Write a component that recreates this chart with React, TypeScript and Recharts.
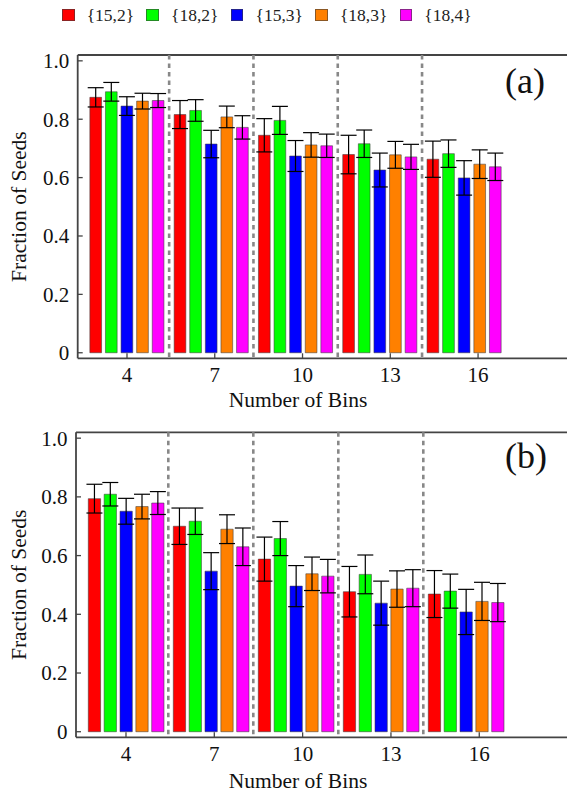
import React from "react";
import { BarChart, Bar, XAxis, YAxis, ReferenceLine, ErrorBar } from "recharts";

const FONT = '"Liberation Serif", "Times New Roman", Times, serif';

// ---------- data ----------
const bins = [4, 7, 10, 13, 16];
const seriesLabels = ["{15,2}", "{18,2}", "{15,3}", "{18,3}", "{18,4}"];
const xTicks = [4, 7, 10, 13, 16];
const yTicks = [0, 0.2, 0.4, 0.6, 0.8, 1.0];

// panel (a)
const a15_2 = [0.875, 0.816, 0.745, 0.679, 0.663];
const a18_2 = [0.894, 0.83, 0.796, 0.716, 0.682];
const a15_3 = [0.845, 0.715, 0.674, 0.626, 0.599];
const a18_3 = [0.862, 0.808, 0.712, 0.678, 0.646];
const a18_4 = [0.864, 0.772, 0.709, 0.671, 0.637];
const aErr15_2 = [0.033, 0.048, 0.057, 0.066, 0.062];
const aErr18_2 = [0.032, 0.037, 0.048, 0.047, 0.047];
const aErr15_3 = [0.032, 0.047, 0.053, 0.058, 0.059];
const aErr18_3 = [0.027, 0.037, 0.042, 0.046, 0.049];
const aErr18_4 = [0.024, 0.04, 0.04, 0.043, 0.047];

// panel (b)
const b15_2 = [0.794, 0.7, 0.588, 0.477, 0.469];
const b18_2 = [0.809, 0.717, 0.658, 0.536, 0.479];
const b15_3 = [0.751, 0.547, 0.496, 0.438, 0.408];
const b18_3 = [0.767, 0.69, 0.538, 0.486, 0.444];
const b18_4 = [0.779, 0.63, 0.53, 0.489, 0.44];
const bErr15_2 = [0.049, 0.062, 0.075, 0.086, 0.08];
const bErr18_2 = [0.04, 0.045, 0.058, 0.066, 0.058];
const bErr15_3 = [0.044, 0.063, 0.07, 0.075, 0.077];
const bErr18_3 = [0.042, 0.049, 0.057, 0.062, 0.065];
const bErr18_4 = [0.039, 0.064, 0.057, 0.063, 0.065];

// ---------- styles ----------
const seriesColors = ["#FF0000", "#00FF00", "#0000FF", "#FF8000", "#FF00FF"];
const AXIS = "#444444";
const TEXT = "#111111";
const Y_MIN = -0.019;
const Y_MAX = 1.02;

function buildRows(values: number[][], errors: number[][]) {
  return bins.map((b, i) => {
    const row: Record<string, number> = { bin: b };
    values.forEach((v, s) => {
      row["v" + s] = v[i];
      row["e" + s] = errors[s][i];
    });
    return row;
  });
}

const rowsA = buildRows(
  [a15_2, a18_2, a15_3, a18_3, a18_4],
  [aErr15_2, aErr18_2, aErr15_3, aErr18_3, aErr18_4]
);
const rowsB = buildRows(
  [b15_2, b18_2, b15_3, b18_3, b18_4],
  [bErr15_2, bErr18_2, bErr15_3, bErr18_3, bErr18_4]
);

type Layout = {
  top: number;
  height: number;
  plotTop: number;
  plotBottom: number;
  plotLeft: number;
  padLeft: number;
  padRight: number;
  barSize: number;
  barGap: number;
  numDomain: [number, number];
  xLabelDy: number;
  tag: string;
  tagTop: number;
};

const W = 567;
const X_AXIS_H = 30;

const layoutA: Layout = {
  top: 0,
  height: 420,
  plotTop: 55,
  plotBottom: 358.3,
  plotLeft: 77.7,
  padLeft: 7.15,
  padRight: 60.65,
  barSize: 11.7,
  barGap: 3.9,
  numDomain: [2.315, 19.04],
  xLabelDy: 48.5,
  tag: "(a)",
  tagTop: 62.8,
};

const layoutB: Layout = {
  top: 380,
  height: 415,
  plotTop: 52.3,
  plotBottom: 357.3,
  plotLeft: 76,
  padLeft: 7.3,
  padRight: 58.7,
  barSize: 12.3,
  barGap: 3.55,
  numDomain: [2.302, 18.98],
  xLabelDy: 51,
  tag: "(b)",
  tagTop: 58.2,
};

const FRAME_W = 1.8;

function Panel({ rows, L }: { rows: Record<string, number>[]; L: Layout }) {
  const marginBottom = L.height - L.plotBottom - X_AXIS_H;
  const yMid = (L.plotTop + L.plotBottom) / 2;
  return (
    <div style={{ position: "absolute", left: 0, top: L.top, width: W, height: L.height }}>
      <BarChart
        width={W}
        height={L.height}
        data={rows}
        margin={{ top: L.plotTop, right: 0, bottom: marginBottom, left: 0 }}
        barSize={L.barSize}
        barGap={L.barGap}
      >
        <XAxis
          xAxisId="cat"
          dataKey="bin"
          type="category"
          orientation="top"
          hide
          padding={{ left: L.padLeft, right: L.padRight }}
        />
        <XAxis
          xAxisId="num"
          dataKey="bin"
          type="number"
          orientation="bottom"
          domain={L.numDomain}
          allowDataOverflow
          ticks={xTicks}
          interval={0}
          height={X_AXIS_H}
          axisLine={{ stroke: AXIS, strokeWidth: FRAME_W }}
          tickLine={{ stroke: AXIS, strokeWidth: 1.3 }}
          tickSize={-5}
          tickMargin={14.2}
          tick={{ fill: TEXT, fontSize: 21, fontFamily: FONT }}
          label={{
            content: () => (
              <text
                x={298}
                y={L.plotBottom + L.xLabelDy}
                textAnchor="middle"
                fill={TEXT}
                fontSize={21.5}
                fontFamily={FONT}
              >
                Number of Bins
              </text>
            ),
          }}
        />
        <YAxis
          type="number"
          domain={[Y_MIN, Y_MAX]}
          allowDataOverflow
          ticks={yTicks}
          interval={0}
          width={L.plotLeft}
          axisLine={{ stroke: AXIS, strokeWidth: FRAME_W }}
          tickLine={{ stroke: AXIS, strokeWidth: 1.3 }}
          tickSize={-5}
          tickMargin={13.5}
          tickFormatter={(v: number) => (v === 0 ? "0" : v.toFixed(1))}
          tick={{ fill: TEXT, fontSize: 21, fontFamily: FONT }}
          label={{
            content: () => (
              <text
                x={19}
                y={yMid}
                dy="0.33em"
                transform={`rotate(-90, 19, ${yMid})`}
                textAnchor="middle"
                fill={TEXT}
                fontSize={21.5}
                fontFamily={FONT}
              >
                Fraction of Seeds
              </text>
            ),
          }}
        />
        <ReferenceLine
          xAxisId="num"
          y={Y_MAX}
          ifOverflow="extendDomain"
          stroke={AXIS}
          strokeWidth={FRAME_W}
          strokeDasharray="1000 0"
        />
        {bins.slice(0, bins.length - 1).map((b) => (
          <ReferenceLine
            key={"sep" + b}
            xAxisId="cat"
            x={b}
            position="end"
            stroke="#888888"
            strokeWidth={2.6}
            strokeDasharray="4.5 4"
          />
        ))}
        {seriesLabels.map((name, s) => (
          <Bar
            key={name}
            xAxisId="cat"
            dataKey={"v" + s}
            name={name}
            fill={seriesColors[s]}
            stroke="rgba(60,60,60,0.55)"
            strokeWidth={1}
            isAnimationActive={false}
          >
            <ErrorBar dataKey={"e" + s} width={8} stroke="#000000" strokeWidth={1.2} direction="y" />
          </Bar>
        ))}
      </BarChart>
      <div
        style={{
          position: "absolute",
          left: 505,
          top: L.tagTop,
          fontFamily: FONT,
          fontSize: 36,
          lineHeight: 1,
          color: TEXT,
          whiteSpace: "nowrap",
        }}
      >
        {L.tag}
      </div>
    </div>
  );
}

const LEG_X0 = 62;
const LEG_PITCH = 84.4;

function Legend() {
  return (
    <div style={{ position: "absolute", left: 0, top: 0, width: W, height: 32 }}>
      {seriesLabels.map((name, i) => (
        <React.Fragment key={name}>
          <div
            style={{
              position: "absolute",
              left: LEG_X0 + i * LEG_PITCH,
              top: 8.7,
              width: 12.6,
              height: 12.6,
              boxSizing: "border-box",
              background: seriesColors[i],
              border: "1px solid rgba(60,60,60,0.6)",
            }}
          />
          <div
            style={{
              position: "absolute",
              left: LEG_X0 + i * LEG_PITCH + 24.7,
              top: 6.5,
              fontFamily: FONT,
              fontSize: 17.5,
              lineHeight: 1,
              color: "#222",
              whiteSpace: "nowrap",
            }}
          >
            {name}
          </div>
        </React.Fragment>
      ))}
    </div>
  );
}

export default function App() {
  return (
    <div
      style={{
        position: "absolute",
        left: 0,
        top: 0,
        width: W,
        height: 795,
        background: "#ffffff",
        overflow: "hidden",
      }}
    >
      <Panel rows={rowsA} L={layoutA} />
      <Panel rows={rowsB} L={layoutB} />
      <Legend />
    </div>
  );
}
